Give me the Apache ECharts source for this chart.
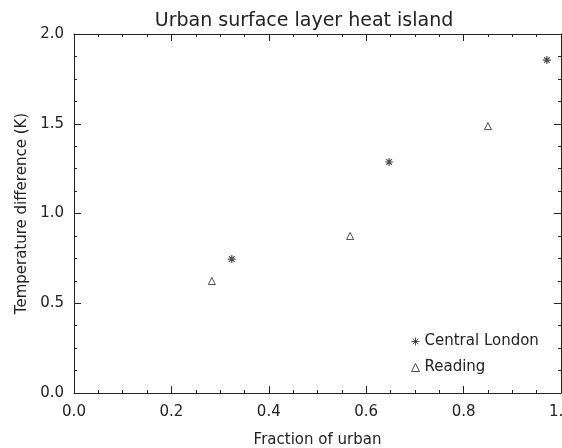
<!DOCTYPE html>
<html>
<head>
<meta charset="utf-8">
<script src="https://cdn.jsdelivr.net/npm/echarts@6/dist/echarts.min.js"></script>
<style>
html, body { margin: 0; padding: 0; background: #fff; }
#chart { width: 562px; height: 448px; }
</style>
</head>
<body>
<div id="chart"></div>
<script>
var chart = echarts.init(document.getElementById("chart"));

// data
var londonX = [0.324, 0.647, 0.971];
var londonY = [0.746, 1.287, 1.855];
var readingX = [0.283, 0.567, 0.850];
var readingY = [0.624, 0.875, 1.487];
var xTicks = [0.0, 0.2, 0.4, 0.6, 0.8, 1.0];
var yTicks = [0.0, 0.5, 1.0, 1.5, 2.0];

var ink = "#222";
var fnt = "DejaVu Sans";
var star = "path://M0,-10L0,10M-10,0L10,0M-7,-7L7,7M-7,7L7,-7";

function pairs(xs, ys) {
    var out = [];
    for (var i = 0; i < xs.length; i++) out.push([xs[i], ys[i]]);
    return out;
}

// axis helper, mirrored axes only draw ticks
function axis(dim, pos, ticks, showLabel, name) {
    var step = ticks[1] - ticks[0];
    return {
        type: "value",
        position: pos,
        min: ticks[0],
        max: ticks[ticks.length - 1],
        interval: step,
        name: name || "",
        nameLocation: "middle",
        nameGap: dim === "x" ? 40 : 44,
        nameTextStyle: { color: ink, fontFamily: fnt, fontSize: 15 },
        axisLine: { show: true, onZero: false, lineStyle: { color: ink, width: 1 } },
        axisTick: { show: true, inside: true, length: 7, lineStyle: { color: ink } },
        minorTick: { show: true, splitNumber: 4, length: 3, lineStyle: { color: ink } },
        splitLine: { show: false },
        axisLabel: {
            show: showLabel,
            color: ink,
            fontFamily: fnt,
            fontSize: 15,
            margin: dim === "x" ? 12 : 10,
            showMinLabel: true,
            showMaxLabel: true,
            hideOverlap: false,
            formatter: function (v) { return v.toFixed(1); }
        }
    };
}

var option = {
    animation: false,
    backgroundColor: "#fff",
    title: {
        text: "Urban surface layer heat island",
        left: 299,
        textAlign: "center",
        top: 7,
        textStyle: { color: ink, fontFamily: fnt, fontSize: 19, fontWeight: "normal" }
    },
    grid: { left: 74, right: 1, top: 34, bottom: 55, outerBoundsMode: "none", containLabel: false },
    xAxis: [
        axis("x", "bottom", xTicks, true, "Fraction of urban"),
        axis("x", "top", xTicks, false)
    ],
    yAxis: [
        axis("y", "left", yTicks, true, "Temperature difference (K)"),
        axis("y", "right", yTicks, false)
    ],
    legend: {
        orient: "vertical",
        left: 409,
        top: 334,
        padding: 0,
        itemWidth: 8,
        itemHeight: 8,
        itemGap: 11,
        textStyle: { color: ink, fontFamily: fnt, fontSize: 15 },
        data: [
            { name: "Central London", itemStyle: { borderWidth: 1 } },
            { name: "Reading", itemStyle: { borderWidth: 1 } }
        ]
    },
    series: [
        {
            name: "Central London",
            type: "scatter",
            symbol: star,
            symbolSize: 8,
            itemStyle: { color: "none", borderColor: ink, borderWidth: 1.2 },
            data: pairs(londonX, londonY)
        },
        {
            name: "Reading",
            type: "scatter",
            symbol: "triangle",
            symbolSize: 7,
            itemStyle: { color: "#fff", borderColor: ink, borderWidth: 1 },
            data: pairs(readingX, readingY)
        }
    ]
};

chart.setOption(option);
</script>
</body>
</html>
